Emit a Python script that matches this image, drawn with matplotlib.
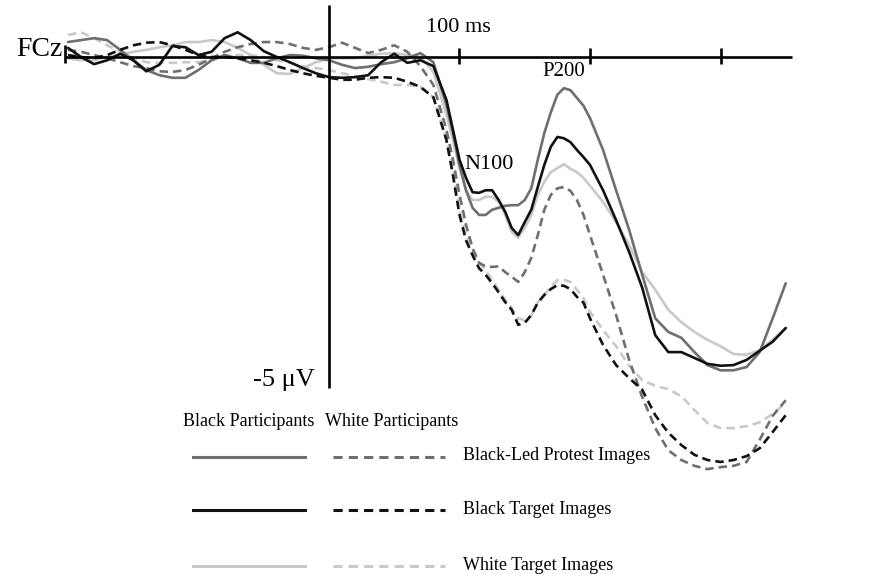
#!/usr/bin/env python3
"""FCz grand-average ERP waveforms by participant race and image type."""

import matplotlib

matplotlib.use("Agg")
import matplotlib.pyplot as plt
from matplotlib.lines import Line2D

plt.rcParams["font.family"] = ["Liberation Serif", "DejaVu Serif"]

# time in ms (finer sampling around N100/P200), amplitude in microvolts
time_ms = list(range(-200, 90, 10)) + list(range(90, 201, 5)) + list(range(210, 351, 10))

black_blp = [  # Black participants, Black-Led Protest images
    0.23, 0.26, 0.29, 0.26, 0.11, -0.05, -0.20, -0.28, -0.32, -0.32,
    -0.20, -0.05, 0.03, -0.02, -0.09, -0.09, -0.02, 0.03, 0.02, -0.02,
    -0.05, -0.12, -0.17, -0.15, -0.11, -0.08, -0.02, 0.06, -0.08,
    -0.74, -1.17, -1.66, -2.05, -2.32, -2.43, -2.43, -2.35, -2.32, -2.29,
    -2.28, -2.28, -2.20, -2.02, -1.58, -1.17, -0.85, -0.58, -0.48, -0.51,
    -0.63, -0.75, -0.94,
    -1.43, -2.05, -2.66, -3.35, -4.02, -4.23, -4.32, -4.54, -4.74, -4.82,
    -4.82, -4.77, -4.54, -4.02, -3.48,
]
black_bt = [  # Black participants, Black target images
    0.14, 0.00, -0.11, -0.05, 0.05, -0.05, -0.22, -0.12, 0.17, 0.15,
    0.03, 0.08, 0.29, 0.38, 0.26, 0.09, 0.00, -0.08, -0.17, -0.25,
    -0.31, -0.32, -0.31, -0.28, -0.08, 0.05, -0.09, -0.05, -0.14,
    -0.66, -1.12, -1.58, -1.86, -2.08, -2.09, -2.05, -2.05, -2.20, -2.38,
    -2.63, -2.74, -2.54, -2.35, -2.00, -1.66, -1.38, -1.23, -1.25, -1.31,
    -1.43, -1.54, -1.66,
    -2.05, -2.51, -3.00, -3.55, -4.28, -4.54, -4.54, -4.63, -4.72, -4.75,
    -4.74, -4.66, -4.52, -4.38, -4.17,
]
black_wt = [  # Black participants, White target images
    -0.02, -0.05, -0.05, 0.00, 0.03, 0.08, 0.11, 0.15, 0.18, 0.23,
    0.23, 0.26, 0.23, 0.14, 0.03, -0.12, -0.25, -0.26, -0.17, -0.08,
    -0.02, -0.02, -0.02, 0.02, 0.05, 0.06, 0.03, 0.00, -0.23,
    -0.89, -1.28, -1.71, -2.05, -2.20, -2.20, -2.15, -2.15, -2.23, -2.43,
    -2.69, -2.78, -2.63, -2.43, -2.12, -1.92, -1.77, -1.71, -1.65, -1.72,
    -1.77, -1.86, -1.98,
    -2.23, -2.54, -2.89, -3.31, -3.58, -3.89, -4.08, -4.23, -4.35, -4.45,
    -4.57, -4.58, -4.51, -4.35, -4.17,
]
white_blp = [  # White participants, Black-Led Protest images
    0.11, 0.08, 0.03, -0.02, -0.08, -0.14, -0.17, -0.22, -0.23, -0.20,
    -0.12, -0.02, 0.08, 0.15, 0.20, 0.23, 0.23, 0.20, 0.14, 0.11,
    0.15, 0.22, 0.14, 0.06, 0.11, 0.18, 0.08, -0.14, -0.43,
    -1.12, -1.58, -2.12, -2.58, -2.94, -3.17, -3.22, -3.23, -3.22, -3.31,
    -3.38, -3.46, -3.31, -3.09, -2.74, -2.35, -2.12, -2.02, -2.00, -2.06,
    -2.20, -2.43, -2.74,
    -3.35, -3.97, -4.66, -5.23, -5.71, -6.05, -6.20, -6.29, -6.34, -6.31,
    -6.29, -6.23, -5.89, -5.52, -5.28,
]
white_bt = [  # White participants, Black target images
    0.03, 0.00, -0.02, 0.03, 0.11, 0.18, 0.22, 0.23, 0.18, 0.11,
    0.03, 0.00, 0.00, -0.02, -0.05, -0.09, -0.14, -0.20, -0.25, -0.29,
    -0.32, -0.35, -0.35, -0.32, -0.31, -0.32, -0.38, -0.46, -0.62,
    -1.28, -1.82, -2.43, -2.82, -3.05, -3.25, -3.35, -3.48, -3.62, -3.77,
    -3.89, -4.12, -4.09, -3.97, -3.78, -3.66, -3.57, -3.51, -3.52, -3.57,
    -3.69, -3.78, -4.02,
    -4.43, -4.74, -4.94, -5.12, -5.51, -5.78, -5.97, -6.12, -6.20, -6.23,
    -6.20, -6.14, -6.02, -5.77, -5.51,
]
white_wt = [  # White participants, White target images
    0.34, 0.38, 0.29, 0.18, 0.08, -0.02, -0.08, -0.09, -0.09, -0.08,
    -0.08, -0.05, 0.02, 0.03, 0.03, 0.00, -0.05, -0.09, -0.14, -0.17,
    -0.20, -0.25, -0.29, -0.34, -0.38, -0.43, -0.43, -0.46, -0.62,
    -1.28, -1.77, -2.35, -2.74, -2.97, -3.15, -3.28, -3.43, -3.58, -3.74,
    -3.86, -4.02, -4.05, -3.98, -3.77, -3.66, -3.54, -3.43, -3.43, -3.46,
    -3.58, -3.71, -3.92,
    -4.20, -4.45, -4.75, -4.97, -5.06, -5.11, -5.22, -5.43, -5.63, -5.71,
    -5.71, -5.68, -5.62, -5.49, -5.32,
]

tick_ms = [100, 200, 300]
conditions = ["Black-Led Protest Images", "Black Target Images", "White Target Images"]
groups = ["Black Participants", "White Participants"]

DARK = "#6f6f6f"
BLACK = "#111111"
LIGHT = "#c9c9c9"
DASH = (3.2, 1.9)

# pixel geometry of the original figure
W, H = 887, 574
X0, SX = 329, 1.305  # px of 0 ms, px per ms
Y0, SY = 57, 65  # px of 0 uV, px per uV


def fx(px):
    return px / W


def fy(py):
    return 1 - py / H


def main() -> None:
    for values in (black_blp, black_bt, black_wt, white_blp, white_bt, white_wt):
        assert len(values) == len(time_ms)

    fig = plt.figure(figsize=(W / 100, H / 100), dpi=100)
    ax = fig.add_axes([0, 0, 1, 1])
    ax.set_xlim(-X0 / SX, (W - X0) / SX)
    ax.set_ylim((Y0 - H) / SY, Y0 / SY)
    ax.axis("off")

    series = [
        (black_wt, LIGHT, "-"),
        (white_wt, LIGHT, "--"),
        (black_blp, DARK, "-"),
        (white_blp, DARK, "--"),
        (black_bt, BLACK, "-"),
        (white_bt, BLACK, "--"),
    ]
    for values, color, style in series:
        line, = ax.plot(time_ms, values, color=color, lw=1.9, ls=style,
                        solid_joinstyle="round", solid_capstyle="round")
        if style == "--":
            line.set_dashes(DASH)

    # hand-drawn style axes
    axis_kw = dict(color="black", lw=1.9, solid_capstyle="butt")
    ax.plot([-202, 355], [0, 0], **axis_kw)
    ax.plot([0, 0], [(Y0 - 5) / SY, (Y0 - 388) / SY], **axis_kw)
    ax.plot([-202, -202], [0.18, -0.09], **axis_kw)
    for t in tick_ms:
        ax.plot([t, t], [0.14, -0.11], **axis_kw)

    ax.text(-204, 0.11, "FCz", fontsize=20, ha="right", va="center")
    ax.text(99, 0.45, "100 ms", fontsize=16, ha="center", va="center")
    ax.text(-11, -4.97, "-5 \u03bcV", fontsize=19, ha="right", va="center")
    ax.text(104, -1.66, "N100", fontsize=16, ha="left", va="center")
    ax.text(180, -0.23, "P200", fontsize=15, ha="center", va="center")

    # legend drawn manually in figure coordinates
    fig.text(fx(183), fy(422), groups[0], fontsize=13, ha="left", va="center")
    fig.text(fx(325), fy(422), groups[1], fontsize=13, ha="left", va="center")
    for label, color, py in zip(conditions, [DARK, BLACK, LIGHT], [457, 510, 566]):
        fig.add_artist(Line2D([fx(193), fx(305)], [fy(py), fy(py)],
                              color=color, lw=2.2))
        dashed = Line2D([fx(333), fx(445)], [fy(py), fy(py)],
                        color=color, lw=2.2, ls="--")
        dashed.set_dashes((3.0, 2.0))
        fig.add_artist(dashed)
        fig.text(fx(463), fy(py - 1), label, fontsize=13, ha="left", va="center")

    fig.savefig("out.png", dpi=100)
    plt.close(fig)


if __name__ == "__main__":
    main()
